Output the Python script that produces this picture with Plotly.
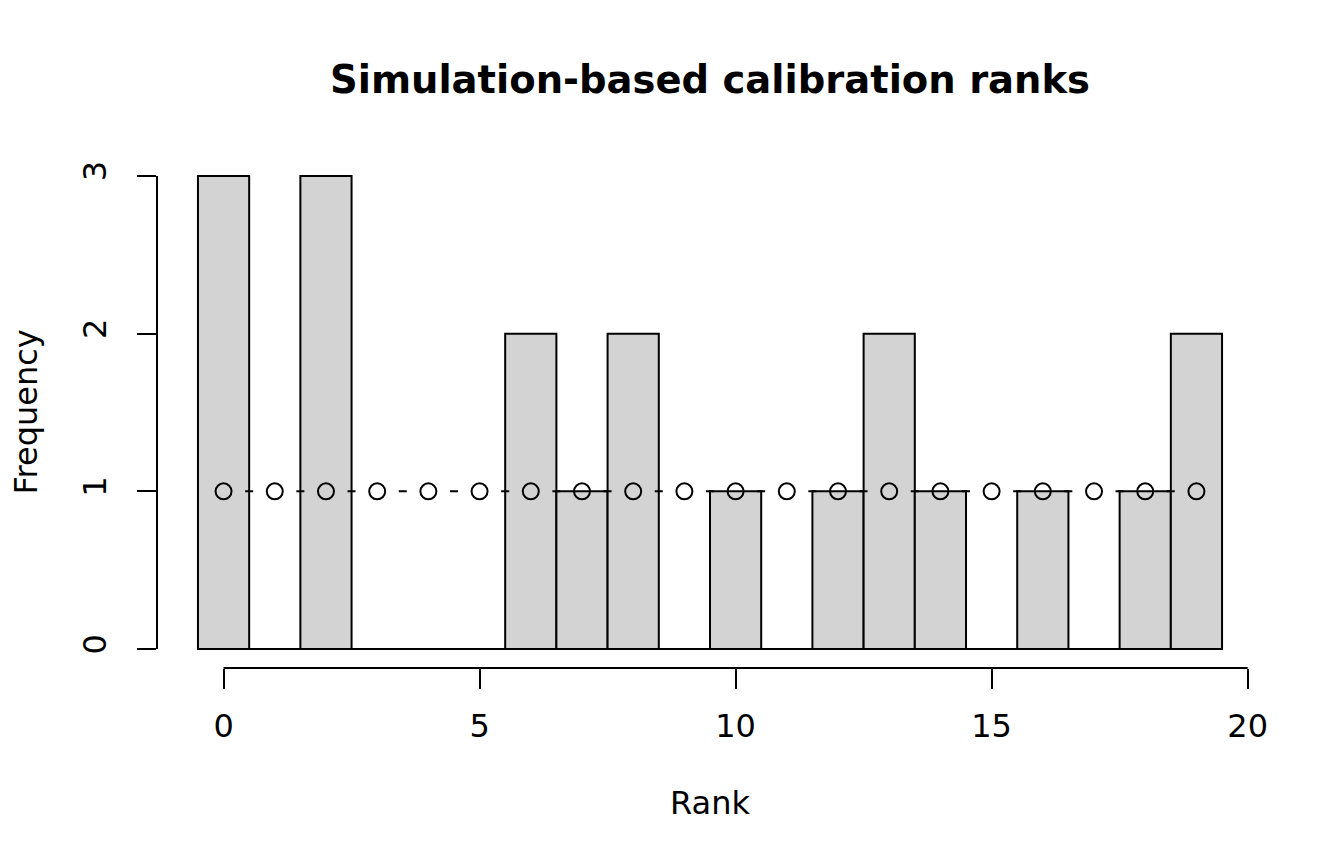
import plotly.graph_objects as go

# SBC rank histogram, 20 draws
ranks = list(range(20))
counts = [3, 0, 3, 0, 0, 0, 2, 1, 2, 0, 1, 0, 1, 2, 1, 0, 1, 0, 1, 2]
expected = [sum(counts) / len(counts)] * len(ranks)

x_ticks = [0, 5, 10, 15, 20]
y_ticks = [0, 1, 2, 3]

font = "DejaVu Sans"

fig = go.Figure()

fig.add_trace(go.Bar(x=ranks, y=counts, width=1,
                     marker=dict(color="#d3d3d3", line=dict(color="black", width=2))))

# zero-height bins still show their outline along the baseline
fig.add_trace(go.Scatter(x=[ranks[0] - 0.5, ranks[-1] + 0.5], y=[0, 0], mode="lines",
                         line=dict(color="black", width=2)))

fig.add_trace(go.Scatter(x=ranks, y=expected, mode="lines+markers",
                         line=dict(color="black", width=2, dash="0px,21.6px,8px,21.6px"),
                         marker=dict(symbol="circle-open", size=16, color="black",
                                     line=dict(width=2))))

fig.update_layout(
    width=1344, height=864,
    margin=dict(l=149, r=89, t=149, b=204),
    plot_bgcolor="white", paper_bgcolor="white",
    showlegend=False,
    font=dict(family=font, size=32, color="black"),
    title=dict(text="Simulation-based calibration ranks", x=0.5, xref="paper",
               y=1 - 72 / 864, yanchor="middle",
               font=dict(family=font, size=38.5, weight="bold", color="black")),
)

fig.update_xaxes(range=[-1.3, 20.3], tickvals=x_ticks, ticks="outside", ticklen=20,
                 tickwidth=2, tickcolor="black", showgrid=False, zeroline=False,
                 showline=False, automargin=False, ticklabelstandoff=10)
fig.update_yaxes(range=[-0.12, 3.12], tickvals=y_ticks, ticks="outside", ticklen=19,
                 tickwidth=2, tickcolor="black", showgrid=False, zeroline=False,
                 showline=False, automargin=False, tickangle=-90, ticklabelstandoff=18)

# R-style detached axis lines spanning first to last tick
fig.add_shape(type="line", xref="x", yref="paper", x0=x_ticks[0], x1=x_ticks[-1], y0=0, y1=0,
              line=dict(color="black", width=2))
fig.add_shape(type="line", xref="paper", yref="y", x0=0, x1=0, y0=y_ticks[0], y1=y_ticks[-1],
              line=dict(color="black", width=2))

fig.add_annotation(text="Rank", xref="paper", yref="paper", x=0.5, y=-(803 - 668) / 511,
                   yanchor="middle", showarrow=False, font=dict(size=32))
fig.add_annotation(text="Frequency", xref="paper", yref="paper", x=-(157 - 25) / 1106,
                   xanchor="center", y=0.5, textangle=-90, showarrow=False, font=dict(size=32))

fig.write_html("out.html")
